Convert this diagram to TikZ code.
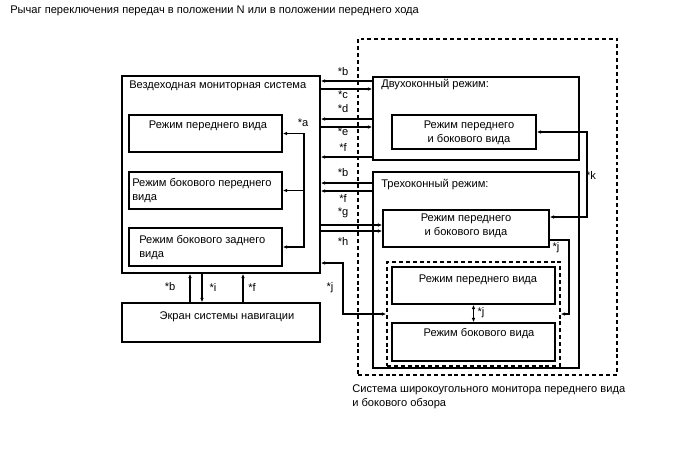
\documentclass[tikz,border=0pt]{standalone}
\usepackage{fontspec}
\setmainfont{Liberation Sans}
\usetikzlibrary{fit, arrows.meta}

\begin{document}
\begin{tikzpicture}[
    x=0.025cm, y=-0.025cm,
    >={Latex[length=3.2pt, width=2.6pt]},
    panel/.style={draw, line width=0.95pt, inner sep=0pt},
    group/.style={draw, line width=0.95pt, dash pattern=on 2.8pt off 2.1pt, inner sep=0pt},
    txt/.style={font=\fontsize{7.9}{9.6}\selectfont, inner sep=0pt, align=left},
    tag/.style={font=\fontsize{7.9}{9.6}\selectfont, inner sep=0pt},
    link/.style={line width=0.95pt}
]
    \useasboundingbox[fill=white] (0,0) rectangle (688,463);

    % boxes
    \node[panel, fit={(122,76) (320,273)}] (vsys) {};
    \node[panel, fit={(129,115) (282,152)}] (mfront) {};
    \node[panel, fit={(129,172) (282,209)}] (mside) {};
    \node[panel, fit={(129,228) (282,266)}] (mrear) {};
    \node[panel, fit={(122,303) (320,342)}] (nav) {};
    \node[group, fit={(358,39) (617,375)}] (wide) {};
    \node[panel, fit={(373,77) (579,160)}] (dual) {};
    \node[panel, fit={(392,115) (536,149)}] (dinner) {};
    \node[panel, fit={(373,172) (579,368)}] (tri) {};
    \node[panel, fit={(383,210) (549,247)}] (tinner) {};
    \node[group, fit={(387,262) (560,366)}] (grp) {};
    \node[panel, fit={(392,267) (555,304)}] (gfront) {};
    \node[panel, fit={(392,323) (555,361)}] (gside) {};

    % texts
    \node[txt, anchor=west] (title) at (10,11) {Рычаг переключения передач в положении N или в положении переднего хода};
    \node[txt, anchor=west] (vsystxt) at (129,86) {Вездеходная мониторная система};
    \node[txt] (mfronttxt) at (208,126) {Режим переднего вида};
    \node[txt, anchor=west] (msidetxt) at (132,190.5) {Режим бокового переднего\\вида};
    \node[txt, anchor=west] (mreartxt) at (139,247.5) {Режим бокового заднего\\вида};
    \node[txt, anchor=west] (dualtxt) at (381,85) {Двухоконный режим:};
    \node[txt, align=center] (dinnertxt) at (469,133) {Режим переднего\\и бокового вида};
    \node[txt, anchor=west] (tritxt) at (381,185) {Трехоконный режим:};
    \node[txt, align=center] (tinnertxt) at (466,226) {Режим переднего\\и бокового вида};
    \node[txt] (gfronttxt) at (478,280) {Режим переднего вида};
    \node[txt] (gsidetxt) at (479,334) {Режим бокового вида};
    \node[txt] (navtxt) at (227,317) {Экран системы навигации};
    \node[txt, anchor=west] (widetxt) at (352,397) {Система широкоугольного монитора переднего вида\\и бокового обзора};

    % bus points
    \coordinate (abus) at (304,0);
    \coordinate (kbus) at (587,0);
    \coordinate (jleft) at (343,0);
    \coordinate (jright) at (569,0);

    % connectors: all-terrain system <-> two-window mode
    \draw[link, <-] (vsys.east |- 0,81) -- (dual.west |- 0,81);
    \draw[link, ->] (vsys.east |- 0,89) -- (dual.west |- 0,89);
    \draw[link, <-] (vsys.east |- 0,119) -- (dual.west |- 0,119);
    \draw[link, ->] (vsys.east |- 0,127) -- (dual.west |- 0,127);
    \draw[link, <-] (vsys.east |- 0,157) -- (dual.west |- 0,157);

    % connectors: all-terrain system <-> three-window mode
    \draw[link, <-] (vsys.east |- 0,183) -- (tri.west |- 0,183);
    \draw[link, <-] (vsys.east |- 0,191) -- (tri.west |- 0,191);
    \draw[link, ->] (vsys.east |- 0,225) -- (tinner.west |- 0,225);
    \draw[link, ->] (vsys.east |- 0,231) -- (tinner.west |- 0,231);
    \draw[link, <->] (vsys.east |- 0,263) -| (jleft |- grp.west) -- (grp.west);

    % inside the boxes
    \draw[link, <->] (mfront.east) -| (abus |- mrear.east) -- (mrear.east);
    \draw[link, ->] (abus |- mside.east) -- (mside.east);
    \draw[link, <->] (dinner.east) -| (kbus |- 0,217) -- (tinner.east |- 0,217);
    \draw[link, ->] (tinner.east |- 0,240) -| (jright |- grp.east) -- (grp.east);
    \draw[link, <->] (gfront.south) -- (gside.north);

    % navigation screen
    \draw[link, ->] (nav.north -| 190,0) -- (vsys.south -| 190,0);
    \draw[link, <-] (nav.north -| 202,0) -- (vsys.south -| 202,0);
    \draw[link, ->] (nav.north -| 243,0) -- (vsys.south -| 243,0);

    % signal tags
    \node[tag] at (303,123) {*a};
    \node[tag] at (343,72) {*b};
    \node[tag] at (343,95) {*c};
    \node[tag] at (343,109) {*d};
    \node[tag] at (343,132) {*e};
    \node[tag] at (343,147) {*f};
    \node[tag] at (343,173) {*b};
    \node[tag] at (343,198) {*f};
    \node[tag] at (343,213) {*g};
    \node[tag] at (343,241) {*h};
    \node[tag] at (330,288) {*j};
    \node[tag] at (591,175) {*k};
    \node[tag] at (556,248) {*j};
    \node[tag] at (481,313) {*j};
    \node[tag] at (170,287) {*b};
    \node[tag] at (213,287) {*i};
    \node[tag] at (252,287) {*f};
\end{tikzpicture}
\end{document}
